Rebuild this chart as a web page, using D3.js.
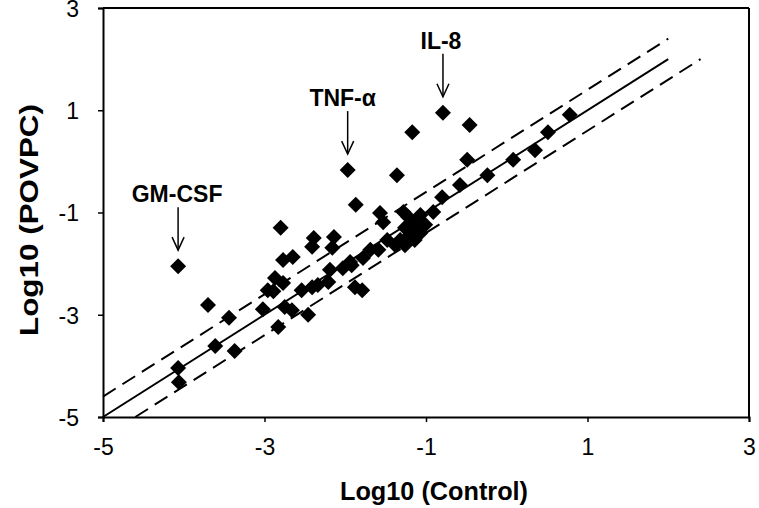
<!DOCTYPE html>
<html>
<head>
<meta charset="utf-8">
<script src="https://cdn.jsdelivr.net/npm/d3@7"></script>
<style>
  html, body { margin: 0; padding: 0; background: #fff; }
  svg { display: block; }
  text { font-family: "Liberation Sans", Arial, sans-serif; fill: #000; }
</style>
</head>
<body>
<svg id="chart" width="759" height="508"></svg>
<script>
// ---- data ----
const controlValues = [
  -4.07, -3.70, -3.44, -3.61, -3.37, -4.07, -4.06, -3.02, -2.96,
  -2.80, -2.87, -2.77, -2.89, -2.75, -2.66, -2.46, -2.83, -2.77, -2.65,
  -2.39, -2.41, -2.14, -2.16, -2.54, -2.41, -2.34, -2.19, -2.21, -1.92, -1.88, -1.79,
  -1.97, -1.87, -1.36, -1.17, -0.79, -0.46, -1.57, -1.53, -2.03, -1.94, -1.78, -1.69, -1.59, -1.48,
  -1.28, -1.22, -1.17, -1.10, -1.26, -1.20, -1.07, -1.32, -1.14, -1.01, -1.38, -1.26, -1.07,
  -0.91, -0.80, -0.58, -0.49, -0.24, 0.08, 0.35, 0.51, 0.78
];
const povpcValues = [
  -2.05, -2.81, -3.06, -3.61, -3.71, -4.04, -4.32, -2.89, -2.52,
  -1.30, -2.28, -2.38, -2.54, -2.85, -2.91, -3.00, -3.24, -1.93, -1.87,
  -1.50, -1.67, -1.48, -1.69, -2.52, -2.46, -2.42, -2.12, -2.36, -2.03, -2.46, -2.52,
  -0.17, -0.85, -0.27, 0.57, 0.95, 0.71, -1.01, -1.19, -2.09, -1.97, -1.89, -1.73, -1.73, -1.54,
  -0.99, -1.09, -1.19, -1.30, -1.30, -1.44, -1.40, -1.54, -1.54, -1.24, -1.64, -1.64, -1.05,
  -0.99, -0.70, -0.46, 0.03, -0.27, 0.03, 0.22, 0.57, 0.91
];
const xTicks = [-5, -3, -1, 1, 3];
const yTicks = [-5, -3, -1, 1, 3];
// reference lines: offset in log units and x-extent
const lineOffsets = [0, 0.4, -0.4];
const lineDashed = [false, true, true];
const lineXStart = [-5, -5, -4.6];
const lineXEnd = [2, 2, 2.4];
// annotations: label and the point index they point to
const annotLabels = ["GM-CSF", "TNF-α", "IL-8"];
const annotIndex = [0, 31, 35];

// ---- layout ----
const svg = d3.select("#chart");
const mLeft = 103, mRight = 749, mTop = 8, mBottom = 417;
const x = d3.scaleLinear().domain([-5, 3]).range([mLeft, mRight]);
const y = d3.scaleLinear().domain([-5, 3]).range([mBottom, mTop]);

// frame (top/right)
svg.append("line").attr("x1", mLeft).attr("x2", mRight).attr("y1", mTop).attr("y2", mTop)
  .attr("stroke", "#000").attr("stroke-width", 2);
svg.append("line").attr("x1", mRight).attr("x2", mRight).attr("y1", mTop).attr("y2", mBottom)
  .attr("stroke", "#000").attr("stroke-width", 2);

// axes
const xAxis = svg.append("g").attr("transform", `translate(0,${mBottom})`)
  .call(d3.axisBottom(x).tickValues(xTicks).tickSize(5).tickPadding(17).tickFormat(d3.format("d")));
const yAxis = svg.append("g").attr("transform", `translate(${mLeft},0)`)
  .call(d3.axisLeft(y).tickValues(yTicks).tickSize(5).tickPadding(19).tickFormat(d3.format("d")));
[xAxis, yAxis].forEach(g => {
  g.select(".domain").attr("stroke", "#000").attr("stroke-width", 2);
  g.selectAll(".tick line").attr("stroke", "#000").attr("stroke-width", 1.5);
  g.selectAll(".tick text").attr("font-size", 23)
    .attr("font-family", "'Liberation Sans', Arial, sans-serif").attr("fill", "#000")
    .text(d => d < 0 ? "-" + Math.abs(d) : String(d));
});
yAxis.selectAll(".tick text").attr("dy", "0.36em");

// reference lines
lineOffsets.forEach((off, i) => {
  svg.append("line")
    .attr("x1", x(lineXStart[i])).attr("y1", y(lineXStart[i] + off))
    .attr("x2", x(lineXEnd[i])).attr("y2", y(lineXEnd[i] + off))
    .attr("stroke", "#000").attr("stroke-width", 2)
    .attr("stroke-dasharray", lineDashed[i] ? "15,8" : null);
});

// points
const pts = controlValues.map((c, i) => ({ c, p: povpcValues[i] }));
const diamond = "M0,-8L8,0L0,8L-8,0Z";
svg.append("g").selectAll("path").data(pts).join("path")
  .attr("d", diamond)
  .attr("transform", d => `translate(${x(d.c)},${y(d.p)})`)
  .attr("fill", "#000");

// annotations
const labelShift = [-1, -5, -2];
annotLabels.forEach((lab, i) => {
  const d = pts[annotIndex[i]];
  const px = x(d.c), py = y(d.p);
  const tipY = py - 16, startY = tipY - 43;
  svg.append("line").attr("x1", px).attr("x2", px).attr("y1", startY).attr("y2", tipY)
    .attr("stroke", "#000").attr("stroke-width", 1.5);
  svg.append("path").attr("d", `M${px - 6},${tipY - 13}L${px},${tipY}L${px + 6},${tipY - 13}`)
    .attr("fill", "none").attr("stroke", "#000").attr("stroke-width", 1.5);
  svg.append("text").attr("x", px + labelShift[i]).attr("y", startY - 5)
    .attr("text-anchor", "middle").attr("font-size", 23).attr("font-weight", "bold")
    .text(lab);
});

// axis titles
svg.append("text").attr("x", 434).attr("y", 500).attr("text-anchor", "middle")
  .attr("font-size", 25).attr("font-weight", "bold")
  .attr("textLength", 188).attr("lengthAdjust", "spacingAndGlyphs")
  .text("Log10 (Control)");
svg.append("text").attr("transform", `translate(38,220) rotate(-90)`)
  .attr("text-anchor", "middle").attr("font-size", 26).attr("font-weight", "bold")
  .attr("textLength", 232).attr("lengthAdjust", "spacingAndGlyphs")
  .text("Log10 (POVPC)");
</script>
</body>
</html>
